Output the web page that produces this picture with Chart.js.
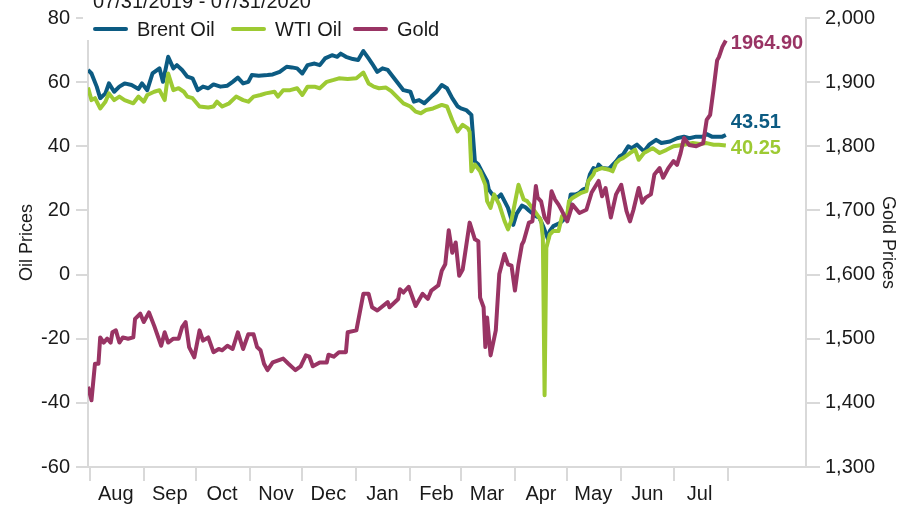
<!DOCTYPE html>
<html>
<head>
<meta charset="utf-8">
<script src="https://cdn.jsdelivr.net/npm/chart.js@4.4.1/dist/chart.umd.min.js"></script>
<style>
  html, body { margin: 0; padding: 0; background: #fff; }
  #wrap { width: 904px; height: 506px; }
</style>
</head>
<body>
<div id="wrap"><canvas id="chart" width="904" height="506"></canvas></div>
<script>
// Oil and gold prices, 07/31/2019 - 07/31/2020
// x values are days since 07/31/2019

const periodLabel = '07/31/2019 - 07/31/2020';
const monthLabels = ['Aug', 'Sep', 'Oct', 'Nov', 'Dec', 'Jan', 'Feb', 'Mar', 'Apr', 'May', 'Jun', 'Jul', ''];
const monthStarts = [1, 32, 62, 93, 123, 154, 185, 214, 245, 275, 306, 336, 367];
const oilTicks = [-60, -40, -20, 0, 20, 40, 60, 80];
const goldTicks = [1300, 1400, 1500, 1600, 1700, 1800, 1900, 2000];

const brentDays = [0, 2, 5, 7, 10, 12, 15, 18, 21, 25, 29, 31, 34, 37, 41, 43, 46, 49, 51, 54, 57, 60, 63, 66, 69, 72, 76, 80, 83, 86, 89, 92, 94, 98, 103, 106, 110, 114, 117, 120, 123, 126, 130, 133, 136, 140, 143, 145, 148, 152, 155, 158, 161, 163, 166, 169, 172, 175, 178, 181, 185, 187, 190, 193, 197, 200, 203, 206, 209, 212, 214, 217, 219, 220, 221, 222, 224, 226, 229, 230, 232, 235, 237, 239, 241, 243, 244, 246, 249, 251, 253, 257, 259, 261, 263, 264, 265, 267, 271, 275, 277, 280, 282, 284, 286, 288, 290, 292, 293, 295, 299, 303, 305, 307, 310, 312, 315, 319, 322, 326, 329, 334, 338, 342, 345, 349, 353, 355, 358, 360, 364, 366];
const brentPrices = [63.8, 62.7, 58.6, 55.0, 56.5, 59.6, 57.0, 58.6, 59.6, 59.1, 57.9, 59.6, 57.5, 62.7, 64.3, 60.1, 67.9, 64.3, 65.3, 63.8, 61.7, 61.2, 57.5, 58.6, 58.1, 59.3, 58.6, 58.9, 60.1, 61.4, 59.6, 60.1, 62.2, 62.0, 62.2, 62.4, 63.2, 64.8, 64.6, 64.3, 62.7, 65.3, 65.8, 65.3, 67.4, 68.4, 67.9, 68.9, 67.9, 67.2, 66.9, 69.7, 67.4, 65.8, 63.2, 64.3, 63.8, 61.7, 59.6, 57.5, 57.0, 53.9, 54.4, 53.4, 55.5, 57.0, 59.1, 58.1, 55.0, 52.5, 51.8, 51.3, 50.3, 49.8, 42.5, 35.3, 34.3, 32.2, 29.1, 26.5, 25.0, 23.9, 25.0, 22.9, 20.8, 17.2, 15.5, 19.0, 21.5, 21.0, 20.0, 18.2, 17.7, 15.3, 12.5, 11.0, 13.6, 15.1, 16.1, 18.2, 25.0, 25.0, 25.5, 26.5, 27.0, 31.2, 33.2, 32.7, 34.3, 33.2, 33.0, 35.3, 36.8, 37.4, 40.0, 39.4, 40.5, 38.4, 40.5, 42.0, 41.0, 41.5, 42.5, 43.0, 42.5, 43.0, 43.0, 43.8, 43.0, 43.0, 43.0, 43.51];

const wtiDays = [0, 2, 4, 7, 10, 12, 15, 18, 21, 26, 29, 32, 34, 38, 41, 44, 46, 49, 52, 55, 57, 60, 64, 69, 72, 74, 77, 81, 85, 89, 92, 95, 99, 102, 107, 109, 112, 116, 120, 123, 126, 130, 133, 137, 141, 144, 149, 154, 158, 161, 164, 167, 171, 174, 178, 181, 185, 188, 191, 194, 198, 203, 206, 209, 212, 215, 218, 219, 220, 222, 225, 228, 229, 231, 233, 236, 239, 241, 243, 247, 250, 252, 256, 259, 260, 261, 262, 263, 265, 267, 270, 272, 275, 276, 278, 283, 286, 287, 290, 291, 295, 299, 301, 303, 305, 307, 311, 314, 316, 319, 324, 328, 332, 336, 342, 347, 351, 355, 359, 362, 366];
const wtiPrices = [58.3, 54.4, 55.0, 51.8, 53.9, 56.5, 54.4, 55.5, 54.4, 53.4, 55.5, 53.9, 56.0, 57.0, 57.5, 54.4, 62.7, 57.5, 58.1, 57.0, 55.5, 55.0, 52.4, 52.1, 52.4, 53.9, 52.4, 53.4, 55.5, 54.4, 53.9, 55.5, 56.0, 56.5, 57.0, 55.5, 57.5, 57.5, 58.1, 56.0, 58.6, 58.6, 58.1, 60.1, 60.7, 61.2, 61.0, 61.2, 63.0, 59.6, 58.6, 58.1, 58.3, 57.2, 55.0, 53.4, 52.4, 50.8, 50.3, 51.3, 51.8, 52.9, 52.4, 48.2, 44.6, 46.7, 45.6, 44.5, 32.2, 34.3, 32.2, 28.0, 22.9, 20.8, 25.0, 21.8, 16.7, 14.1, 17.0, 28.0, 23.4, 22.9, 20.0, 17.7, 16.7, 11.5, -37.6, 8.4, 12.5, 13.6, 13.6, 18.2, 18.7, 22.9, 23.9, 25.5, 26.0, 29.1, 31.2, 32.5, 33.2, 32.7, 32.2, 34.8, 35.8, 36.3, 37.9, 38.9, 35.8, 37.9, 39.4, 37.9, 38.9, 40.0, 40.5, 41.0, 40.7, 41.0, 40.5, 40.5, 40.25];

const goldDays = [0, 2, 4, 6, 7, 9, 11, 13, 14, 16, 18, 20, 23, 26, 27, 30, 32, 35, 38, 42, 44, 46, 49, 52, 54, 56, 58, 61, 64, 66, 69, 72, 75, 77, 80, 83, 86, 89, 92, 95, 97, 99, 101, 103, 106, 112, 115, 119, 122, 125, 127, 129, 133, 137, 138, 141, 144, 148, 149, 154, 158, 161, 163, 166, 172, 173, 178, 179, 181, 184, 188, 192, 195, 197, 201, 203, 205, 207, 209, 211, 213, 215, 216, 219, 222, 224, 225, 227, 228, 229, 231, 234, 236, 239, 241, 243, 245, 247, 249, 250, 253, 255, 257, 258, 260, 262, 264, 266, 268, 270, 272, 275, 278, 282, 286, 289, 293, 295, 297, 300, 303, 306, 309, 311, 313, 316, 318, 320, 323, 325, 328, 330, 333, 336, 338, 340, 342, 345, 349, 353, 355, 357, 359, 361, 362, 364, 366];
const goldPrices = [1425, 1404, 1461, 1461, 1502, 1494, 1500, 1494, 1510, 1513, 1494, 1502, 1500, 1502, 1531, 1539, 1526, 1541, 1520, 1489, 1510, 1494, 1500, 1500, 1518, 1526, 1487, 1471, 1513, 1497, 1502, 1479, 1484, 1482, 1489, 1484, 1510, 1484, 1507, 1507, 1487, 1482, 1461, 1451, 1463, 1469, 1461, 1451, 1457, 1474, 1472, 1457, 1463, 1463, 1475, 1472, 1479, 1479, 1510, 1513, 1570, 1570, 1549, 1544, 1557, 1549, 1562, 1577, 1572, 1581, 1551, 1570, 1562, 1575, 1583, 1606, 1616, 1669, 1634, 1650, 1598, 1608, 1626, 1681, 1655, 1652, 1564, 1549, 1487, 1533, 1474, 1513, 1601, 1632, 1616, 1614, 1575, 1616, 1647, 1652, 1681, 1683, 1738, 1720, 1714, 1689, 1681, 1730, 1717, 1709, 1699, 1683, 1709, 1696, 1701, 1728, 1746, 1722, 1735, 1689, 1725, 1740, 1699, 1683, 1701, 1735, 1712, 1720, 1725, 1756, 1766, 1751, 1766, 1777, 1771, 1789, 1813, 1802, 1800, 1805, 1841, 1849, 1890, 1934, 1939, 1955, 1964.9];

// colours
const BRENT_COLOR = '#0c5b82';
const WTI_COLOR = '#9dca33';
const GOLD_COLOR = '#993464';
const AXIS_COLOR = '#d9d9d9';
const TEXT_COLOR = '#1a1a1a';
const FONT = '"Liberation Sans", Arial, sans-serif';

function toPoints(days, values) {
    return days.map((d, i) => ({ x: d, y: values[i] }));
}

// legend, period title and last-value labels
const overlayPlugin = {
    id: 'overlay',
    afterDraw(chart) {
        const ctx = chart.ctx;
        ctx.save();
        // white box behind title and legend
        ctx.fillStyle = '#fff';
        ctx.fillRect(83, 0, 370, 40);

        ctx.fillStyle = TEXT_COLOR;
        ctx.font = '20px ' + FONT;
        ctx.textBaseline = 'alphabetic';
        ctx.textAlign = 'left';
        ctx.fillText(periodLabel, 93, 8);

        const items = [
            { text: 'Brent Oil', color: BRENT_COLOR, x: 93 },
            { text: 'WTI Oil', color: WTI_COLOR, x: 231 },
            { text: 'Gold', color: GOLD_COLOR, x: 353 }
        ];
        items.forEach(it => {
            ctx.strokeStyle = it.color;
            ctx.lineWidth = 4;
            ctx.lineCap = 'round';
            ctx.beginPath();
            ctx.moveTo(it.x + 2, 29);
            ctx.lineTo(it.x + 33, 29);
            ctx.stroke();
            ctx.fillStyle = TEXT_COLOR;
            ctx.fillText(it.text, it.x + 44, 36);
        });

        // last values
        const xs = chart.scales.x, ys = chart.scales.y, gs = chart.scales.y1;
        ctx.font = 'bold 20px ' + FONT;
        ctx.textBaseline = 'middle';
        const lastX = xs.getPixelForValue(goldDays[goldDays.length - 1]) + 5;
        const gLast = goldPrices[goldPrices.length - 1];
        const bLast = brentPrices[brentPrices.length - 1];
        const wLast = wtiPrices[wtiPrices.length - 1];
        ctx.fillStyle = GOLD_COLOR;
        ctx.fillText(gLast.toFixed(2), lastX, gs.getPixelForValue(gLast) + 3);
        ctx.fillStyle = BRENT_COLOR;
        ctx.fillText(bLast.toFixed(2), lastX, ys.getPixelForValue(bLast) - 13);
        ctx.fillStyle = WTI_COLOR;
        ctx.fillText(wLast.toFixed(2), lastX, ys.getPixelForValue(wLast) + 3);
        ctx.restore();
    }
};

const lineDefaults = { borderWidth: 4, pointRadius: 0, tension: 0, fill: false, borderJoinStyle: 'round' };

new Chart(document.getElementById('chart'), {
    type: 'line',
    data: {
        datasets: [
            Object.assign({ label: 'Gold', data: toPoints(goldDays, goldPrices), borderColor: GOLD_COLOR, yAxisID: 'y1', order: 1 }, lineDefaults),
            Object.assign({ label: 'WTI Oil', data: toPoints(wtiDays, wtiPrices), borderColor: WTI_COLOR, yAxisID: 'y', order: 2 }, lineDefaults),
            Object.assign({ label: 'Brent Oil', data: toPoints(brentDays, brentPrices), borderColor: BRENT_COLOR, yAxisID: 'y', order: 3 }, lineDefaults)
        ]
    },
    options: {
        responsive: false,
        animation: false,
        layout: { padding: { top: 16, left: 0, right: 0, bottom: 0 } },
        plugins: {
            legend: { display: false },
            tooltip: { enabled: false }
        },
        scales: {
            x: {
                type: 'linear',
                min: 0,
                max: 412,
                afterBuildTicks: scale => { scale.ticks = monthStarts.map(v => ({ value: v })); },
                afterFit: scale => { scale.height = 39; },
                grid: { drawOnChartArea: false, drawTicks: true, tickLength: 14, color: AXIS_COLOR, lineWidth: 2 },
                border: { color: AXIS_COLOR, width: 2 },
                ticks: {
                    autoSkip: false,
                    maxRotation: 0,
                    labelOffset: 26,
                    padding: 1,
                    color: TEXT_COLOR,
                    font: { family: FONT, size: 20 },
                    callback: (v, i) => monthLabels[i]
                }
            },
            y: {
                position: 'left',
                min: -60,
                max: 80,
                afterBuildTicks: scale => { scale.ticks = oilTicks.map(v => ({ value: v })); },
                afterFit: scale => { scale.width = 88; },
                grid: { drawOnChartArea: false, drawTicks: true, tickLength: 12, color: AXIS_COLOR, lineWidth: 2 },
                border: { color: AXIS_COLOR, width: 2 },
                ticks: { padding: 6, color: TEXT_COLOR, font: { family: FONT, size: 20 } },
                title: { display: true, text: 'Oil Prices', color: TEXT_COLOR, font: { family: FONT, size: 18 }, padding: { top: 16, bottom: 0 } }
            },
            y1: {
                position: 'right',
                min: 1300,
                max: 2000,
                afterBuildTicks: scale => { scale.ticks = goldTicks.map(v => ({ value: v })); },
                afterFit: scale => { scale.width = 98; },
                grid: { drawOnChartArea: false, drawTicks: true, tickLength: 14, color: AXIS_COLOR, lineWidth: 2 },
                border: { color: AXIS_COLOR, width: 2 },
                ticks: {
                    padding: 5,
                    color: TEXT_COLOR,
                    font: { family: FONT, size: 20 },
                    callback: v => v.toLocaleString('en-US')
                },
                title: { display: true, text: 'Gold Prices', color: TEXT_COLOR, font: { family: FONT, size: 18 }, padding: { top: 5, bottom: 0 } }
            }
        }
    },
    plugins: [overlayPlugin]
});
</script>
</body>
</html>
